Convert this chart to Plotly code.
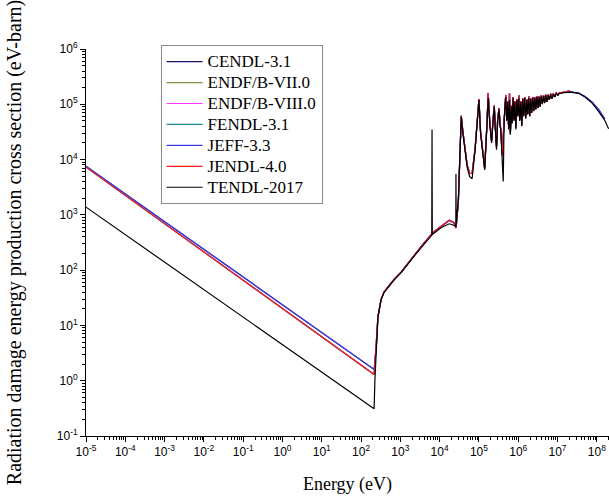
import plotly.graph_objects as go

# ---------------- data ----------------
libraries = ["CENDL-3.1", "ENDF/B-VII.0", "ENDF/B-VIII.0", "FENDL-3.1",
             "JEFF-3.3", "JENDL-4.0", "TENDL-2017"]
colors = ["#14146e", "#8c8c46", "#ff33ff", "#1e8c8c", "#3c3ce6", "#ff1a1a", "#000000"]

# thermal (1/v) region: start energy and damage threshold energy
E_thermal = [1e-5, 215]
tendl_thermal = [1380, 0.31]
jendl_thermal = [7300, 1.3]
jeff_thermal = [7600, 1.6]

# above-threshold region (eV)
E_fast = [225, 252, 268, 322, 383, 690, 1050, 2250, 4000, 6300,
          6400, 6500, 1.1e4, 1.76e4, 2.3e4, 2.58e4, 2.6e4, 2.63e4, 3.0e4, 3.3e4,
          3.55e4, 3.9e4, 4.3e4, 5.0e4, 5.8e4, 6.7e4, 8.0e4, 1.0e5, 1.1e5, 1.2e5,
          1.4e5, 1.6e5, 1.72e5, 1.9e5, 2.1e5, 2.3e5, 2.45e5, 2.65e5, 2.8e5, 3.0e5,
          3.25e5, 3.45e5, 3.6e5, 3.9e5, 4.15e5, 4.4e5, 4.8e5, 5.1e5, 5.4e5, 5.7e5,
          6.0e5, 6.3e5, 6.7e5, 7.0e5, 7.4e5, 7.8e5, 8.2e5, 8.7e5, 9.2e5, 9.7e5,
          1.03e6, 1.09e6, 1.16e6, 1.23e6, 1.3e6, 1.38e6, 1.46e6, 1.55e6, 1.65e6, 1.75e6,
          1.85e6, 1.96e6, 2.08e6, 2.2e6, 2.35e6, 2.5e6, 2.65e6, 2.8e6, 3.0e6, 3.2e6,
          3.4e6, 3.6e6, 3.85e6, 4.1e6, 4.4e6, 4.7e6, 5.0e6, 5.4e6, 5.8e6, 6.2e6,
          6.7e6, 7.2e6, 7.8e6, 8.5e6, 9.3e6, 1.02e7, 1.12e7, 1.29e7, 1.6e7, 2.07e7,
          2.6e7, 3.44e7, 5.0e7, 7.6e7, 1.13e8, 1.6e8, 2.0e8]

tendl_fast = [1.0, 5.5, 14, 29, 39, 66, 90, 180, 300, 430,
              3.5e4, 440, 590, 690, 650, 620, 5.5e3, 640, 2.0e3, 1.5e4,
              5.9e4, 3.0e4, 1.7e4, 7.4e3, 4.9e3, 4.5e3, 1.5e4, 1.2e5, 3.0e4, 1.7e4,
              6.5e3, 4.0e4, 1.3e5, 4.0e4, 2.0e4, 5.0e4, 9.0e4, 3.0e4, 1.5e4, 5.0e4,
              8.0e4, 4.0e4, 3.4e4, 1.0e4, 4.0e3, 6.0e4, 1.35e5, 5.0e4, 1.1e5, 3.5e4,
              1.2e5, 2.8e4, 9.0e4, 4.5e4, 1.3e5, 5.0e4, 1.1e5, 3.5e4, 1.2e5, 6.0e4,
              1.3e5, 5.0e4, 1.1e5, 4.0e4, 1.25e5, 6.0e4, 1.3e5, 5.5e4, 1.2e5, 6.5e4,
              1.3e5, 6.0e4, 1.25e5, 7.0e4, 1.3e5, 7.5e4, 1.3e5, 8.0e4, 1.35e5, 8.5e4,
              1.35e5, 9.0e4, 1.4e5, 1.0e5, 1.4e5, 1.05e5, 1.45e5, 1.1e5, 1.45e5, 1.2e5,
              1.5e5, 1.25e5, 1.5e5, 1.35e5, 1.55e5, 1.45e5, 1.58e5, 1.6e5, 1.64e5, 1.66e5,
              1.63e5, 1.58e5, 1.35e5, 1.05e5, 7.3e4, 5.1e4, 3.6e4]

jendl_fast = [2.0, 5.5, 14, 29, 40, 68, 92, 185, 310, 445,
              460, 465, 620, 800, 720, 600, 580, 600, 1.8e3, 1.6e4,
              6.2e4, 3.2e4, 1.8e4, 8.0e3, 5.6e3, 5.6e3, 1.6e4, 1.25e5, 3.2e4, 1.8e4,
              7.0e3, 4.5e4, 1.6e5, 4.5e4, 2.2e4, 5.5e4, 9.5e4, 3.2e4, 1.7e4, 5.5e4,
              8.5e4, 4.2e4, 3.6e4, 1.2e4, 3.0e4, 6.5e4, 1.45e5, 5.2e4, 1.15e5, 3.8e4,
              1.6e5, 3.0e4, 9.5e4, 4.7e4, 1.35e5, 5.2e4, 1.15e5, 3.8e4, 1.25e5, 6.2e4,
              1.45e5, 5.2e4, 1.15e5, 4.2e4, 1.3e5, 6.2e4, 1.35e5, 5.8e4, 1.25e5, 6.8e4,
              1.4e5, 6.2e4, 1.3e5, 7.2e4, 1.35e5, 7.8e4, 1.35e5, 8.2e4, 1.4e5, 8.8e4,
              1.4e5, 9.2e4, 1.45e5, 1.02e5, 1.45e5, 1.08e5, 1.5e5, 1.12e5, 1.5e5, 1.22e5,
              1.55e5, 1.28e5, 1.55e5, 1.38e5, 1.6e5, 1.48e5, 1.62e5, 1.63e5, 1.68e5, 1.75e5,
              None, None, None, None, None, None, None]

jeff_fast = [2.2, 5.5, 14, 29, 40, 68, 92, 185, 310, 445,
             460, 465, 620, 790, 720, 600, 580, 600, 1.8e3, 1.6e4,
             6.2e4, 3.2e4, 1.8e4, 8.0e3, 5.6e3, 5.6e3, 1.6e4, 1.25e5, 3.2e4, 1.8e4,
             7.0e3, 4.5e4, 1.6e5, 4.5e4, 2.2e4, 5.5e4, 9.5e4, 3.2e4, 1.7e4, 5.5e4,
             8.5e4, 4.2e4, 3.6e4, 1.2e4, 3.0e4, 6.5e4, 1.45e5, 5.2e4, 1.15e5, 3.8e4,
             1.55e5, 3.0e4, 9.5e4, 4.7e4, 1.35e5, 5.2e4, 1.15e5, 3.8e4, 1.25e5, 6.2e4,
             1.45e5, 5.2e4, 1.15e5, 4.2e4, 1.3e5, 6.2e4, 1.35e5, 5.8e4, 1.25e5, 6.8e4,
             1.4e5, 6.2e4, 1.3e5, 7.2e4, 1.35e5, 7.8e4, 1.35e5, 8.2e4, 1.4e5, 8.8e4,
             1.4e5, 9.2e4, 1.45e5, 1.02e5, 1.45e5, 1.08e5, 1.5e5, 1.12e5, 1.5e5, 1.22e5,
             1.55e5, 1.3e5, 1.58e5, 1.38e5, 1.6e5, 1.48e5, 1.6e5, 1.62e5, 1.66e5, 1.68e5,
             1.64e5, 1.6e5, 1.38e5, 1.09e5, 7.9e4, 5.4e4, None]

assert len(E_fast) == len(tendl_fast) == len(jendl_fast) == len(jeff_fast)

series = {
    "CENDL-3.1": (jeff_thermal, jeff_fast),
    "ENDF/B-VII.0": (jendl_thermal, jendl_fast),
    "ENDF/B-VIII.0": (jendl_thermal, jendl_fast),
    "FENDL-3.1": (jendl_thermal, jendl_fast),
    "JEFF-3.3": (jeff_thermal, jeff_fast),
    "JENDL-4.0": (jendl_thermal, jendl_fast),
    "TENDL-2017": (tendl_thermal, tendl_fast),
}

x_tick_exp = list(range(-5, 9))
y_tick_exp = list(range(-1, 7))

# ---------------- figure ----------------
fig = go.Figure()
for name, color in zip(libraries, colors):
    th, fa = series[name]
    fig.add_trace(go.Scatter(
        x=E_thermal + E_fast, y=th + fa, mode="lines",
        name='<span style="font-size:17px">%s</span>' % name,
        line=dict(color=color, width=1.2), connectgaps=False))

tick_font = dict(family="Liberation Sans, Arial, sans-serif", size=12, color="black")
serif = "Liberation Serif, Times New Roman, serif"

fig.update_xaxes(
    type="log", range=[-5, 8.31],
    tickmode="array",
    tickvals=[10.0 ** e for e in x_tick_exp],
    ticktext=["10<sup>%d</sup>" % e for e in x_tick_exp],
    showline=True, linecolor="black", linewidth=1, mirror=False,
    ticks="outside", ticklen=5, tickwidth=1, tickcolor="black",
    minor=dict(ticks="outside", ticklen=3, tickwidth=1, tickcolor="black", dtick="D1"),
    showgrid=False, zeroline=False, tickfont=tick_font,
    title=dict(text="Energy (eV)", font=dict(family=serif, size=18, color="black"),
               standoff=18),
)
fig.update_yaxes(
    type="log", range=[-1, 6],
    tickmode="array",
    tickvals=[10.0 ** e for e in y_tick_exp],
    ticktext=["10<sup>%d</sup>" % e for e in y_tick_exp],
    showline=True, linecolor="black", linewidth=1, mirror=False,
    ticks="outside", ticklen=5, tickwidth=1, tickcolor="black",
    minor=dict(ticks="outside", ticklen=3, tickwidth=1, tickcolor="black", dtick="D1"),
    showgrid=False, zeroline=False, tickfont=tick_font,
    title=dict(text="Radiation damage energy production cross section (eV-barn)",
               font=dict(family=serif, size=20, color="black"), standoff=29),
)

fig.update_layout(
    width=609, height=502,
    margin=dict(l=86, r=0, t=49, b=66, pad=0),
    paper_bgcolor="white", plot_bgcolor="white",
    showlegend=True,
    legend=dict(x=0.1426, y=1.01, xanchor="left", yanchor="top",
                bgcolor="white", bordercolor="#8a8a8a", borderwidth=1,
                font=dict(family=serif, size=13.8, color="black"),
                itemwidth=36, tracegroupgap=0),
)

fig.write_html("out.html")
